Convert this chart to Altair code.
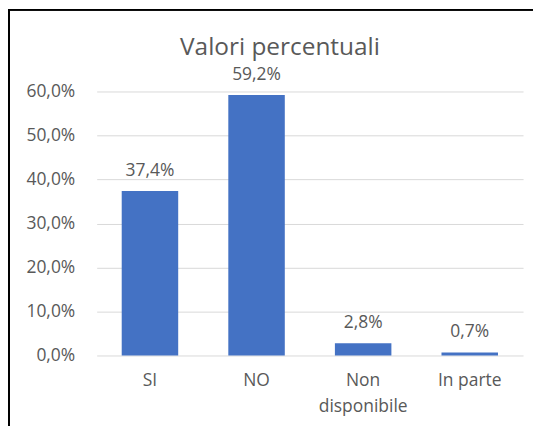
import altair as alt
import pandas as pd

categories = ["SI", "NO", "Non disponibile", "In parte"]
values = [0.374, 0.592, 0.028, 0.007]
y_ticks = [0.0, 0.1, 0.2, 0.3, 0.4, 0.5, 0.6]
title_text = "Valori percentuali"

df = pd.DataFrame({"cat": categories, "val": values})

FONT = "Open Sans"
GRAY = "#595959"
FS = 17.5

base = alt.Chart(df).encode(
    x=alt.X("cat:N", sort=categories, title=None,
            scale=alt.Scale(paddingInner=0.47, paddingOuter=0.235),
            axis=alt.Axis(labelAngle=0, labelFontSize=FS, labelColor=GRAY, labelFont=FONT,
                          domain=False, ticks=False, labelPadding=16, labelLineHeight=26,
                          labelExpr="datum.value == 'Non disponibile' ? ['Non', 'disponibile'] : datum.value")),
)

bars = base.mark_bar(color="#4472C4").encode(
    y=alt.Y("val:Q", title=None,
            scale=alt.Scale(domain=[0, 0.6], nice=False),
            axis=alt.Axis(values=y_ticks, labelFontSize=FS, labelColor=GRAY, labelFont=FONT,
                          domain=False, ticks=False, labelPadding=22,
                          gridColor="#D9D9D9", gridWidth=1,
                          labelExpr="replace(format(datum.value, '.1%'), '.', ',')")),
)

labels = base.transform_calculate(
    lbl="replace(format(datum.val, '.1%'), '.', ',')"
).mark_text(baseline="bottom", dy=-11, fontSize=FS, color=GRAY, font=FONT).encode(
    y="val:Q", text="lbl:N"
)

title = alt.Chart(pd.DataFrame({"t": [title_text]})).mark_text(
    fontSize=24.5, color=GRAY, font=FONT, baseline="alphabetic", align="center"
).encode(x=alt.value(184), y=alt.value(-37), text="t:N")

border = alt.Chart(df).mark_rect(fill=None, stroke="#000000", strokeWidth=1.5, clip=False).encode(
    x=alt.value(-88), x2=alt.value(460), y=alt.value(-82), y2=alt.value(380)
)

chart = alt.layer(bars, labels, title, border).properties(
    width=428, height=265,
    autosize=alt.AutoSizeParams(type="none"),
    padding={"left": 89, "top": 83, "right": 10, "bottom": 70},
).configure_view(stroke=None)

chart.save("out.html", embed_options={"renderer": "svg", "actions": False})
